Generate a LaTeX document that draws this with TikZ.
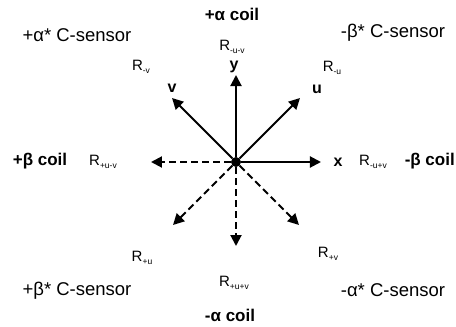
\documentclass[tikz,border=0pt]{standalone}
\usepackage{fontspec}
\setmainfont{Liberation Sans}
\usetikzlibrary{arrows.meta}
\newcommand{\Rsub}[1]{R\raisebox{-0.3ex}{\fontsize{8.5}{9}\selectfont #1}}
\tikzset{
  coil/.style   = {font=\fontsize{17}{19}\selectfont\bfseries, inner sep=0pt},
  sensor/.style = {font=\fontsize{18.5}{20}\selectfont, inner sep=0pt},
  rlab/.style   = {font=\fontsize{15}{17}\selectfont, inner sep=0pt},
  axlab/.style  = {font=\fontsize{16}{18}\selectfont\bfseries, inner sep=0pt},
  dot/.style    = {circle, fill=black, minimum size=10pt, inner sep=0pt},
  vec/.style    = {-{Triangle[length=11pt,width=11pt]}, line width=2pt},
  negvec/.style = {vec, dash pattern=on 7pt off 4pt},
}
\begin{document}
\begin{tikzpicture}[x=1pt, y=1pt]
      \useasboundingbox (-236,-165) rectangle (220,162);
      \node[dot] (O) at (0,0) {};
      % vector ends
      \coordinate (xe)  at (85,0);
      \coordinate (ye)  at (0,87);
      \coordinate (ue)  at (64,64);
      \coordinate (ve)  at (-64,64);
      \coordinate (mxe) at (-85,0);
      \coordinate (mye) at (0,-84);
      \coordinate (mue) at (-63,-63);
      \coordinate (mve) at (63,-63);
      \draw[vec]    (O) -- (xe);
      \draw[vec]    (O) -- (ye);
      \draw[vec]    (O) -- (ue);
      \draw[vec]    (O) -- (ve);
      \draw[negvec] (O) -- (mxe);
      \draw[negvec] (O) -- (mye);
      \draw[negvec] (O) -- (mue);
      \draw[negvec] (O) -- (mve);
      % axis names
      \node[axlab] (xl) at (102,0)  {x};
      \node[axlab] (yl) at (-2,95)  {y};
      \node[axlab] (ul) at (81,73)  {u};
      \node[axlab] (vl) at (-64,74) {v};
      % R labels
      \node[rlab] (r1) at (-4,115)   {\Rsub{-u-v}};
      \node[rlab] (r2) at (96,94)    {\Rsub{-u}};
      \node[rlab] (r3) at (-95,95)   {\Rsub{-v}};
      \node[rlab] (r4) at (-133,0)   {\Rsub{+u-v}};
      \node[rlab] (r5) at (137,0)    {\Rsub{-u+v}};
      \node[rlab] (r6) at (-94,-96)  {\Rsub{+u}};
      \node[rlab] (r7) at (-2,-121)  {\Rsub{+u+v}};
      \node[rlab] (r8) at (92,-92)   {\Rsub{+v}};
      % coils
      \node[coil] (ap) at (-4,148)   {+α coil};
      \node[coil] (am) at (-6,-153)  {-α coil};
      \node[coil] (bp) at (-196,1)   {+β coil};
      \node[coil, anchor=east] (bm) at (219,1) {-β coil};
      % C-sensors
      \node[sensor] (s1) at (-159,127)  {+α* C-sensor};
      \node[sensor] (s2) at (157,129)   {-β* C-sensor};
      \node[sensor] (s3) at (-159,-129) {+β* C-sensor};
      \node[sensor] (s4) at (157,-128)  {-α* C-sensor};
    \end{tikzpicture}
\end{document}
